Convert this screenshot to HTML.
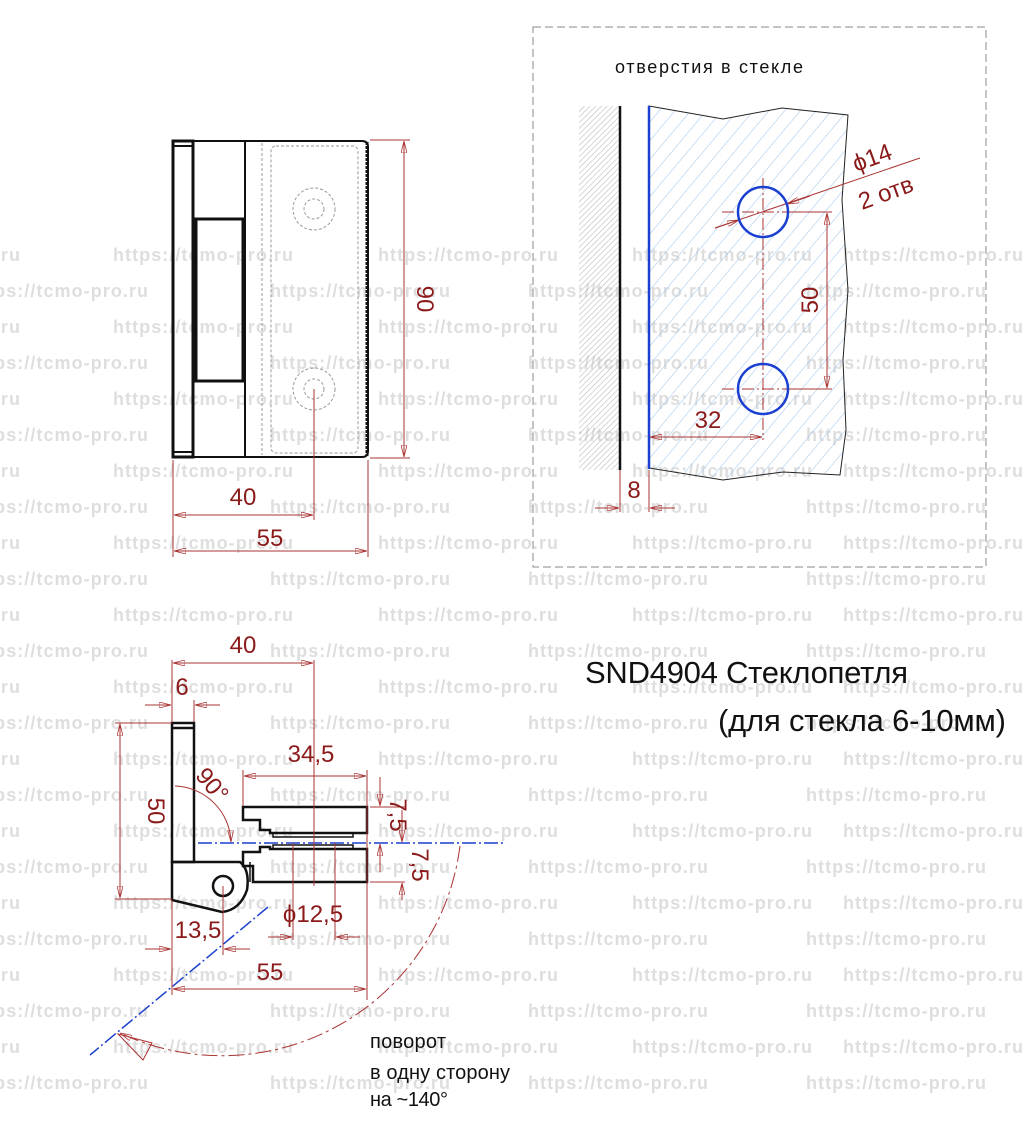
<!DOCTYPE html>
<html><head><meta charset="utf-8"><style>
html,body{margin:0;padding:0;background:#fff}
svg{display:block}
.wm{font:bold 18px "Liberation Sans",sans-serif;fill:#dedede}
.d{stroke:#a33;stroke-width:1;fill:none}
.t{font-family:"Liberation Sans","Noto Sans CJK SC",sans-serif;fill:#8b1a1a;font-size:24px}
.k{font-family:"Liberation Sans","Noto Sans CJK SC",sans-serif;fill:#111}
</style></head><body>
<svg width="1029" height="1127" viewBox="0 0 1029 1127" xmlns="http://www.w3.org/2000/svg">
<defs>
<pattern id="h1" width="4" height="4" patternUnits="userSpaceOnUse" patternTransform="rotate(45)"><line x1="0" y1="0" x2="0" y2="4" stroke="#bbb" stroke-width="1.2"/></pattern>
<pattern id="h2" width="12" height="12" patternUnits="userSpaceOnUse" patternTransform="rotate(40)"><line x1="0" y1="0" x2="0" y2="12" stroke="#9cc3e8" stroke-width="1"/></pattern>
<marker id="a" viewBox="0 0 12 6" refX="12" refY="3" markerWidth="12" markerHeight="6" orient="auto-start-reverse" markerUnits="userSpaceOnUse"><path d="M0,0 L12,3 L0,6 Z" fill="none" stroke="#a33" stroke-width="0.8"/></marker>
</defs>
<g class="wm">
<text y="261"><tspan x="-160" textLength="180">https://tcmo-pro.ru</tspan><tspan x="113" textLength="180">https://tcmo-pro.ru</tspan><tspan x="378" textLength="180">https://tcmo-pro.ru</tspan><tspan x="632" textLength="180">https://tcmo-pro.ru</tspan><tspan x="843" textLength="180">https://tcmo-pro.ru</tspan></text>
<text y="297"><tspan x="-32" textLength="180">https://tcmo-pro.ru</tspan><tspan x="270" textLength="180">https://tcmo-pro.ru</tspan><tspan x="528" textLength="180">https://tcmo-pro.ru</tspan><tspan x="806" textLength="180">https://tcmo-pro.ru</tspan></text>
<text y="333"><tspan x="-160" textLength="180">https://tcmo-pro.ru</tspan><tspan x="113" textLength="180">https://tcmo-pro.ru</tspan><tspan x="378" textLength="180">https://tcmo-pro.ru</tspan><tspan x="632" textLength="180">https://tcmo-pro.ru</tspan><tspan x="843" textLength="180">https://tcmo-pro.ru</tspan></text>
<text y="369"><tspan x="-32" textLength="180">https://tcmo-pro.ru</tspan><tspan x="270" textLength="180">https://tcmo-pro.ru</tspan><tspan x="528" textLength="180">https://tcmo-pro.ru</tspan><tspan x="806" textLength="180">https://tcmo-pro.ru</tspan></text>
<text y="405"><tspan x="-160" textLength="180">https://tcmo-pro.ru</tspan><tspan x="113" textLength="180">https://tcmo-pro.ru</tspan><tspan x="378" textLength="180">https://tcmo-pro.ru</tspan><tspan x="632" textLength="180">https://tcmo-pro.ru</tspan><tspan x="843" textLength="180">https://tcmo-pro.ru</tspan></text>
<text y="441"><tspan x="-32" textLength="180">https://tcmo-pro.ru</tspan><tspan x="270" textLength="180">https://tcmo-pro.ru</tspan><tspan x="528" textLength="180">https://tcmo-pro.ru</tspan><tspan x="806" textLength="180">https://tcmo-pro.ru</tspan></text>
<text y="477"><tspan x="-160" textLength="180">https://tcmo-pro.ru</tspan><tspan x="113" textLength="180">https://tcmo-pro.ru</tspan><tspan x="378" textLength="180">https://tcmo-pro.ru</tspan><tspan x="632" textLength="180">https://tcmo-pro.ru</tspan><tspan x="843" textLength="180">https://tcmo-pro.ru</tspan></text>
<text y="513"><tspan x="-32" textLength="180">https://tcmo-pro.ru</tspan><tspan x="270" textLength="180">https://tcmo-pro.ru</tspan><tspan x="528" textLength="180">https://tcmo-pro.ru</tspan><tspan x="806" textLength="180">https://tcmo-pro.ru</tspan></text>
<text y="549"><tspan x="-160" textLength="180">https://tcmo-pro.ru</tspan><tspan x="113" textLength="180">https://tcmo-pro.ru</tspan><tspan x="378" textLength="180">https://tcmo-pro.ru</tspan><tspan x="632" textLength="180">https://tcmo-pro.ru</tspan><tspan x="843" textLength="180">https://tcmo-pro.ru</tspan></text>
<text y="585"><tspan x="-32" textLength="180">https://tcmo-pro.ru</tspan><tspan x="270" textLength="180">https://tcmo-pro.ru</tspan><tspan x="528" textLength="180">https://tcmo-pro.ru</tspan><tspan x="806" textLength="180">https://tcmo-pro.ru</tspan></text>
<text y="621"><tspan x="-160" textLength="180">https://tcmo-pro.ru</tspan><tspan x="113" textLength="180">https://tcmo-pro.ru</tspan><tspan x="378" textLength="180">https://tcmo-pro.ru</tspan><tspan x="632" textLength="180">https://tcmo-pro.ru</tspan><tspan x="843" textLength="180">https://tcmo-pro.ru</tspan></text>
<text y="657"><tspan x="-32" textLength="180">https://tcmo-pro.ru</tspan><tspan x="270" textLength="180">https://tcmo-pro.ru</tspan><tspan x="528" textLength="180">https://tcmo-pro.ru</tspan><tspan x="806" textLength="180">https://tcmo-pro.ru</tspan></text>
<text y="693"><tspan x="-160" textLength="180">https://tcmo-pro.ru</tspan><tspan x="113" textLength="180">https://tcmo-pro.ru</tspan><tspan x="378" textLength="180">https://tcmo-pro.ru</tspan><tspan x="632" textLength="180">https://tcmo-pro.ru</tspan><tspan x="843" textLength="180">https://tcmo-pro.ru</tspan></text>
<text y="729"><tspan x="-32" textLength="180">https://tcmo-pro.ru</tspan><tspan x="270" textLength="180">https://tcmo-pro.ru</tspan><tspan x="528" textLength="180">https://tcmo-pro.ru</tspan><tspan x="806" textLength="180">https://tcmo-pro.ru</tspan></text>
<text y="765"><tspan x="-160" textLength="180">https://tcmo-pro.ru</tspan><tspan x="113" textLength="180">https://tcmo-pro.ru</tspan><tspan x="378" textLength="180">https://tcmo-pro.ru</tspan><tspan x="632" textLength="180">https://tcmo-pro.ru</tspan><tspan x="843" textLength="180">https://tcmo-pro.ru</tspan></text>
<text y="801"><tspan x="-32" textLength="180">https://tcmo-pro.ru</tspan><tspan x="270" textLength="180">https://tcmo-pro.ru</tspan><tspan x="528" textLength="180">https://tcmo-pro.ru</tspan><tspan x="806" textLength="180">https://tcmo-pro.ru</tspan></text>
<text y="837"><tspan x="-160" textLength="180">https://tcmo-pro.ru</tspan><tspan x="113" textLength="180">https://tcmo-pro.ru</tspan><tspan x="378" textLength="180">https://tcmo-pro.ru</tspan><tspan x="632" textLength="180">https://tcmo-pro.ru</tspan><tspan x="843" textLength="180">https://tcmo-pro.ru</tspan></text>
<text y="873"><tspan x="-32" textLength="180">https://tcmo-pro.ru</tspan><tspan x="270" textLength="180">https://tcmo-pro.ru</tspan><tspan x="528" textLength="180">https://tcmo-pro.ru</tspan><tspan x="806" textLength="180">https://tcmo-pro.ru</tspan></text>
<text y="909"><tspan x="-160" textLength="180">https://tcmo-pro.ru</tspan><tspan x="113" textLength="180">https://tcmo-pro.ru</tspan><tspan x="378" textLength="180">https://tcmo-pro.ru</tspan><tspan x="632" textLength="180">https://tcmo-pro.ru</tspan><tspan x="843" textLength="180">https://tcmo-pro.ru</tspan></text>
<text y="945"><tspan x="-32" textLength="180">https://tcmo-pro.ru</tspan><tspan x="270" textLength="180">https://tcmo-pro.ru</tspan><tspan x="528" textLength="180">https://tcmo-pro.ru</tspan><tspan x="806" textLength="180">https://tcmo-pro.ru</tspan></text>
<text y="981"><tspan x="-160" textLength="180">https://tcmo-pro.ru</tspan><tspan x="113" textLength="180">https://tcmo-pro.ru</tspan><tspan x="378" textLength="180">https://tcmo-pro.ru</tspan><tspan x="632" textLength="180">https://tcmo-pro.ru</tspan><tspan x="843" textLength="180">https://tcmo-pro.ru</tspan></text>
<text y="1017"><tspan x="-32" textLength="180">https://tcmo-pro.ru</tspan><tspan x="270" textLength="180">https://tcmo-pro.ru</tspan><tspan x="528" textLength="180">https://tcmo-pro.ru</tspan><tspan x="806" textLength="180">https://tcmo-pro.ru</tspan></text>
<text y="1053"><tspan x="-160" textLength="180">https://tcmo-pro.ru</tspan><tspan x="113" textLength="180">https://tcmo-pro.ru</tspan><tspan x="378" textLength="180">https://tcmo-pro.ru</tspan><tspan x="632" textLength="180">https://tcmo-pro.ru</tspan><tspan x="843" textLength="180">https://tcmo-pro.ru</tspan></text>
<text y="1089"><tspan x="-32" textLength="180">https://tcmo-pro.ru</tspan><tspan x="270" textLength="180">https://tcmo-pro.ru</tspan><tspan x="528" textLength="180">https://tcmo-pro.ru</tspan><tspan x="806" textLength="180">https://tcmo-pro.ru</tspan></text>
</g>

<!-- TOP LEFT HINGE -->
<g fill="none" stroke="#111">
<rect x="173" y="141" width="20" height="316" stroke-width="3"/>
<line x1="173" y1="146" x2="193" y2="146" stroke-width="2"/>
<line x1="173" y1="452" x2="193" y2="452" stroke-width="2"/>
<line x1="193" y1="141" x2="245" y2="141" stroke-width="2"/>
<line x1="193" y1="457" x2="245" y2="457" stroke-width="2"/>
<rect x="196" y="219" width="47" height="162" stroke-width="3"/>
<path d="M245,141 H362 Q368,141 368,147 V451 Q368,457 362,457 H245 Z" stroke-width="2"/>
<line x1="367" y1="142" x2="367" y2="456" stroke-width="3" stroke-dasharray="3,1"/>
</g>
<g fill="none" stroke="#999" stroke-dasharray="3,2" stroke-width="1">
<line x1="262" y1="143" x2="262" y2="455"/>
<rect x="271" y="146" width="87" height="307" rx="5"/>
<circle cx="314" cy="209" r="21"/><circle cx="314" cy="209" r="10"/>
<circle cx="314" cy="389" r="21"/><circle cx="314" cy="389" r="10"/>
</g>
<g class="d">
<line x1="370" y1="140" x2="410" y2="140"/><line x1="370" y1="458" x2="410" y2="458"/>
<line x1="404" y1="141" x2="404" y2="457" marker-start="url(#a)" marker-end="url(#a)"/>
<line x1="173" y1="460" x2="173" y2="557"/><line x1="368" y1="460" x2="368" y2="557"/>
<line x1="314" y1="389" x2="314" y2="520"/>
<line x1="174" y1="515" x2="313" y2="515" marker-start="url(#a)" marker-end="url(#a)"/>
<line x1="174" y1="551" x2="367" y2="551" marker-start="url(#a)" marker-end="url(#a)"/>
</g>
<text class="t" transform="translate(417,299) rotate(90)" text-anchor="middle">90</text>
<text class="t" x="243" y="505" text-anchor="middle">40</text>
<text class="t" x="270" y="546" text-anchor="middle">55</text>

<!-- TOP RIGHT -->
<rect x="533" y="27" width="453" height="540" fill="none" stroke="#888" stroke-dasharray="8,4"/>
<text class="k" x="615" y="73" font-size="18" textLength="188">отверстия в стекле</text>
<rect x="579" y="106" width="41" height="364" fill="url(#h1)"/>
<line x1="620" y1="106" x2="620" y2="470" stroke="#111" stroke-width="2.5"/>
<path d="M649,106 L723,119 L782,108 L848,115 L842,200 L848,290 L843,360 L846,430 L840,475 L783,472 L723,480 L649,468 Z" fill="url(#h2)" stroke="#222" stroke-width="1"/>
<line x1="649" y1="106" x2="649" y2="469" stroke="#1b3fd0" stroke-width="2.5"/>
<g class="d" stroke-dasharray="12,3,2,3">
<line x1="763" y1="178" x2="763" y2="440"/>
<line x1="722" y1="212" x2="800" y2="212"/>
<line x1="722" y1="389" x2="800" y2="389"/>
</g>
<g class="d">
<line x1="788" y1="212" x2="832" y2="212"/><line x1="788" y1="389" x2="832" y2="389"/>
<line x1="827" y1="213" x2="827" y2="388" marker-start="url(#a)" marker-end="url(#a)"/>
<line x1="620" y1="470" x2="620" y2="512"/><line x1="649" y1="470" x2="649" y2="512"/>
<line x1="595" y1="508" x2="619" y2="508" marker-end="url(#a)"/>
<line x1="675" y1="508" x2="650" y2="508" marker-end="url(#a)"/>
<line x1="650" y1="437" x2="762" y2="437" marker-start="url(#a)" marker-end="url(#a)"/>
<line x1="715" y1="228" x2="920" y2="158"/>
<line x1="715" y1="228" x2="739" y2="220" marker-end="url(#a)"/>
<line x1="810" y1="196" x2="787" y2="204" marker-end="url(#a)"/>
</g>
<circle cx="763" cy="212" r="25" fill="none" stroke="#1b3fd0" stroke-width="2.5"/>
<circle cx="763" cy="389" r="25" fill="none" stroke="#1b3fd0" stroke-width="2.5"/>
<text class="t" transform="translate(818,300) rotate(-90)" text-anchor="middle">50</text>
<text class="t" x="708" y="428" text-anchor="middle">32</text>
<text class="t" x="634" y="498" text-anchor="middle">8</text>
<text class="t" transform="translate(856,172) rotate(-20)">ϕ14</text>
<text class="t" transform="translate(862,210) rotate(-20)">2 отв</text>

<!-- TITLE -->
<text class="k" x="585" y="683" font-size="31" textLength="323">SND4904 Стеклопетля</text>
<text class="k" x="718" y="731" font-size="31" textLength="288">(для стекла 6-10мм)</text>

<!-- BOTTOM LEFT -->
<g fill="none" stroke="#111" stroke-width="2.5">
<path d="M172,723 H194 V862 H172 Z"/>
<line x1="172" y1="728" x2="194" y2="728"/>
<path d="M172,862 H240 Q250,870 247,890 Q240,910 222,912 L172,900 Z"/>
<circle cx="223" cy="886" r="10"/>
<path d="M243,807 H367 V833 H270 V830 H260 V820 H243 Z"/>
<path d="M243,852 H260 V847 H270 V849 H367 V882 H253 V866 H243 Z"/>
<path d="M273,833 H353 V837 H273 Z" stroke-width="1.5"/>
<path d="M273,849 H353 V845 H273 Z" stroke-width="1.5"/>
<line x1="250" y1="862" x2="250" y2="882" stroke-width="1.5"/>
</g>
<g stroke="#1b3fd0" stroke-width="1.5" stroke-dasharray="14,3,2,3" fill="none">
<line x1="198" y1="843" x2="505" y2="843"/>
<line x1="268" y1="907" x2="90" y2="1055"/>
</g>
<g class="d">
<line x1="172" y1="660" x2="172" y2="722"/><line x1="314" y1="660" x2="314" y2="886"/>
<line x1="173" y1="663" x2="313" y2="663" marker-start="url(#a)" marker-end="url(#a)"/>
<line x1="194" y1="700" x2="194" y2="722"/>
<line x1="145" y1="705" x2="171" y2="705" marker-end="url(#a)"/>
<line x1="220" y1="705" x2="195" y2="705" marker-end="url(#a)"/>
<line x1="115" y1="723" x2="172" y2="723"/><line x1="115" y1="899" x2="172" y2="899"/>
<line x1="120" y1="724" x2="120" y2="898" marker-start="url(#a)" marker-end="url(#a)"/>
<line x1="243" y1="770" x2="243" y2="806"/><line x1="367" y1="770" x2="367" y2="1000"/>
<line x1="244" y1="776" x2="366" y2="776" marker-start="url(#a)" marker-end="url(#a)"/>
<line x1="370" y1="807" x2="405" y2="807"/><line x1="370" y1="882" x2="405" y2="882"/>
<line x1="380" y1="777" x2="380" y2="806" marker-end="url(#a)"/>
<line x1="380" y1="872" x2="380" y2="844" marker-end="url(#a)"/>
<line x1="402" y1="810" x2="402" y2="842" marker-end="url(#a)"/>
<line x1="402" y1="900" x2="402" y2="883" marker-end="url(#a)"/>
<path d="M175,786 A58,58 0 0 1 231,842" marker-end="url(#a)"/>
<line x1="293" y1="843" x2="293" y2="940"/><line x1="335" y1="843" x2="335" y2="940"/>
<line x1="268" y1="937" x2="292" y2="937" marker-end="url(#a)"/>
<line x1="360" y1="937" x2="336" y2="937" marker-end="url(#a)"/>
<line x1="172" y1="900" x2="172" y2="995"/><line x1="223" y1="886" x2="223" y2="955"/>
<line x1="145" y1="949" x2="171" y2="949" marker-end="url(#a)"/>
<line x1="250" y1="949" x2="224" y2="949" marker-end="url(#a)"/>
<line x1="173" y1="989" x2="366" y2="989" marker-start="url(#a)" marker-end="url(#a)"/>
<path d="M460,846 A240,240 0 0 1 120,1033" stroke-dasharray="16,4,3,4" marker-end="url(#a)"/>
</g>
<path d="M118,1034 L152,1043 L143,1060 Z" fill="none" stroke="#a33" stroke-width="1"/>
<text class="t" x="243" y="653" text-anchor="middle">40</text>
<text class="t" x="182" y="695" text-anchor="middle">6</text>
<text class="t" transform="translate(148,811) rotate(90)" text-anchor="middle">50</text>
<text class="t" x="311" y="762" text-anchor="middle">34,5</text>
<text class="t" transform="translate(206,790) rotate(50)" text-anchor="middle">90°</text>
<text class="t" transform="translate(390,815) rotate(90)" text-anchor="middle">7,5</text>
<text class="t" transform="translate(412,865) rotate(90)" text-anchor="middle">7,5</text>
<text class="t" x="313" y="922" text-anchor="middle">ϕ12,5</text>
<text class="t" x="198" y="938" text-anchor="middle">13,5</text>
<text class="t" x="270" y="980" text-anchor="middle">55</text>
<text class="k" x="370" y="1048" font-size="20" textLength="76">поворот</text>
<text class="k" x="370" y="1079" font-size="20" textLength="140">в одну сторону</text>
<text class="k" x="370" y="1106" font-size="20" textLength="78">на ~140°</text>
</svg>
</body></html>
